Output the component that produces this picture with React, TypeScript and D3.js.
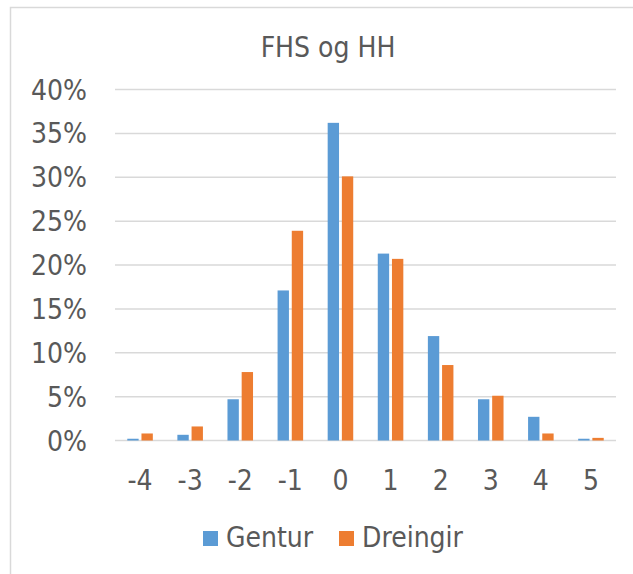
import React, { useEffect, useRef } from 'react';
import * as d3 from 'd3';

const categories = ['-4', '-3', '-2', '-1', '0', '1', '2', '3', '4', '5'];
const seriesNames = ['Gentur', 'Dreingir'];
const gentur = [0.2, 0.65, 4.7, 17.1, 36.2, 21.3, 11.9, 4.7, 2.7, 0.2];
const dreingir = [0.8, 1.6, 7.8, 23.9, 30.1, 20.7, 8.6, 5.1, 0.8, 0.3];
const yTicks = [0, 5, 10, 15, 20, 25, 30, 35, 40];
const colors = ['#5b9bd5', '#ed7d31'];

function App() {
  const svgRef = useRef<SVGSVGElement>(null);

  useEffect(() => {
    const svg = d3.select(svgRef.current);
    svg.selectAll('*').remove();

    const font = '"DejaVu Sans Condensed", "DejaVu Sans", sans-serif';
    const textColor = '#595959';

    // outer frame (runs off the right/bottom edge like the screenshot)
    svg.append('rect')
      .attr('x', 10.5).attr('y', 7.5)
      .attr('width', 700).attr('height', 700)
      .attr('fill', 'white')
      .attr('stroke', '#d9d9d9').attr('stroke-width', 1.5);

    const x = d3.scaleBand<string>()
      .domain(categories)
      .range([115, 616])
      .paddingInner(0.49)
      .paddingOuter(0.245);

    const xs = d3.scaleBand<string>()
      .domain(seriesNames)
      .range([0, x.bandwidth()])
      .paddingInner(0.2);

    const y = d3.scaleLinear().domain([0, 40]).range([440.5, 89.5]);

    // gridlines
    svg.append('g')
      .selectAll('line')
      .data(yTicks)
      .enter()
      .append('line')
      .attr('x1', 115).attr('x2', 616)
      .attr('y1', (d) => y(d)).attr('y2', (d) => y(d))
      .attr('stroke', '#d9d9d9').attr('stroke-width', 1.5);

    // y labels
    svg.append('g')
      .selectAll('text')
      .data(yTicks)
      .enter()
      .append('text')
      .attr('x', 87)
      .attr('y', (d) => y(d))
      .attr('dy', '0.36em')
      .attr('text-anchor', 'end')
      .attr('font-family', font).attr('font-size', 28)
      .attr('fill', textColor)
      .text((d) => d + '%');

    // x labels
    svg.append('g')
      .selectAll('text')
      .data(categories)
      .enter()
      .append('text')
      .attr('x', (d) => x(d)! + x.bandwidth() / 2)
      .attr('y', 490)
      .attr('text-anchor', 'middle')
      .attr('font-family', font).attr('font-size', 28)
      .attr('fill', textColor)
      .text((d) => d);

    // bars
    const values = [gentur, dreingir];
    seriesNames.forEach((name, si) => {
      svg.append('g')
        .selectAll('rect')
        .data(values[si])
        .enter()
        .append('rect')
        .attr('x', (d, i) => x(categories[i])! + xs(name)!)
        .attr('width', xs.bandwidth())
        .attr('y', (d) => y(d))
        .attr('height', (d) => y(0) - y(d))
        .attr('fill', colors[si]);
    });

    // title
    svg.append('text')
      .attr('x', 328).attr('y', 57)
      .attr('text-anchor', 'middle')
      .attr('font-family', font).attr('font-size', 28)
      .attr('fill', textColor)
      .text('FHS og HH');

    // legend
    const legendX = [203, 339];
    seriesNames.forEach((name, si) => {
      svg.append('rect')
        .attr('x', legendX[si]).attr('y', 531)
        .attr('width', 15).attr('height', 15)
        .attr('fill', colors[si]);
      svg.append('text')
        .attr('x', legendX[si] + 23).attr('y', 547)
        .attr('font-family', font).attr('font-size', 28)
        .attr('fill', textColor)
        .text(name);
    });
  }, []);

  return (
    <svg
      ref={svgRef}
      width={633}
      height={574}
      style={{ position: 'absolute', left: 0, top: 0, display: 'block' }}
    ></svg>
  );
}

export default App;
